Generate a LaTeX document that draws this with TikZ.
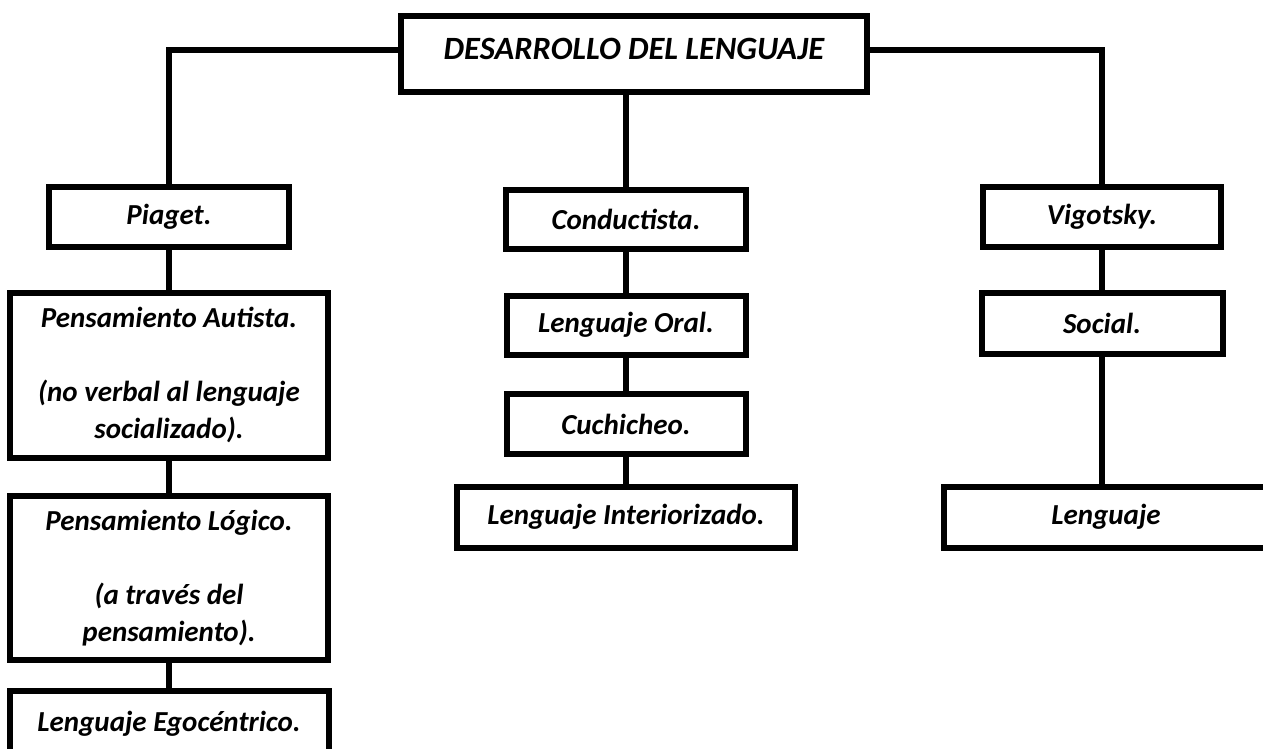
\documentclass[tikz,border=0pt]{standalone}
\usepackage{fontspec}
\setmainfont{Carlito}
\begin{document}
\begin{tikzpicture}[x=1pt,y=-1pt,
    caja/.style={draw,line width=6pt,inner sep=0pt,align=center,
      font=\fontsize{29}{37}\selectfont\bfseries\itshape},
    linea/.style={line width=6pt}]
    \useasboundingbox (0,0) rectangle (1263,749);
    \clip (0,0) rectangle (1263,749);
    \node[caja,minimum width=466pt,minimum height=76pt,text height=22pt,text depth=10pt,
      font=\fontsize{32.5}{37}\selectfont\bfseries\itshape] (t) at (634, 54) {DESARROLLO DEL LENGUAJE};
    \node[caja,minimum width=240pt,minimum height=60pt] (p) at (169, 217) {Piaget.};
    \node[caja,minimum width=318pt,minimum height=165pt] (pa) at (169, 375) {Pensamiento Autista.\\[37pt](no verbal al lenguaje\\socializado).};
    \node[caja,minimum width=318pt,minimum height=164pt] (pl) at (169, 578) {Pensamiento Lógico.\\[37pt](a través del\\pensamiento).};
    \node[caja,minimum width=319pt,minimum height=66pt] (le) at (169, 724) {Lenguaje Egocéntrico.};
    \node[caja,minimum width=240pt,minimum height=59pt] (c) at (626, 219) {Conductista.};
    \node[caja,minimum width=239pt,minimum height=59pt] (lo) at (626, 325) {Lenguaje Oral.};
    \node[caja,minimum width=239pt,minimum height=60pt] (cu) at (626, 424) {Cuchicheo.};
    \node[caja,minimum width=338pt,minimum height=61pt] (li) at (626, 517) {Lenguaje Interiorizado.};
    \node[caja,minimum width=238pt,minimum height=60pt] (v) at (1102, 217) {Vigotsky.};
    \node[caja,minimum width=241pt,minimum height=61pt] (s) at (1102, 323) {Social.};
    \node[caja,minimum width=324pt,minimum height=61pt] (l) at (1106, 517) {Lenguaje};
    \draw [linea] ([yshift=4pt]t.west) -| (p);
    \draw [linea] ([yshift=4pt]t.east) -| (v);
    \draw [linea] (c.north |- t.south) to (c);
    \draw [linea] (p) to (pa);
    \draw [linea] (pa) to (pl);
    \draw [linea] (pl) to (le);
    \draw [linea] (c) to (lo);
    \draw [linea] (lo) to (cu);
    \draw [linea] (cu) to (li);
    \draw [linea] (v) to (s);
    \draw [linea] (s) to (s |- l.north);
  \end{tikzpicture}
\end{document}
